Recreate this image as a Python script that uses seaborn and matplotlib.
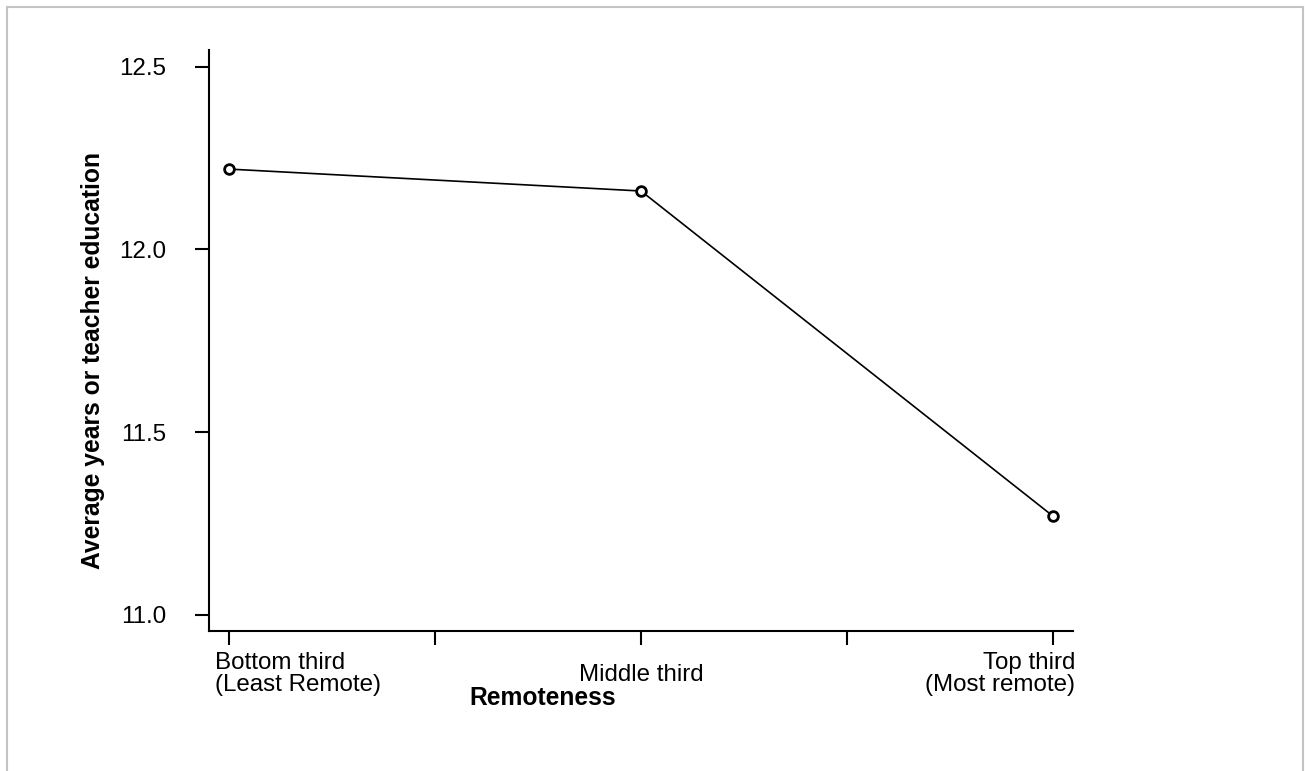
import matplotlib
matplotlib.use('Agg')
import matplotlib.pyplot as plt
import matplotlib.transforms as mtransforms
from matplotlib.patches import Rectangle
import seaborn as sns
import pandas as pd

# data
categories = ['Bottom third\n(Least Remote)', 'Middle third', 'Top third\n(Most remote)']
avg_education = [12.22, 12.16, 11.27]
y_ticks = [11.0, 11.5, 12.0, 12.5]

sns.set_theme(style='white')
plt.rcParams['font.family'] = ['Liberation Sans', 'DejaVu Sans']

df = pd.DataFrame({'pos': range(len(categories)), 'edu': avg_education})

fig = plt.figure(figsize=(13.05, 7.71), dpi=100)
ax = fig.add_axes([0.1602, 0.1816, 0.6621, 0.7536])

# grey frame around the whole picture
fig.patches.append(Rectangle((7 / 1305, -0.05), 1296 / 1305, 1.05 - 7 / 771,
                             transform=fig.transFigure, fill=False,
                             edgecolor='#c4c4c4', linewidth=1.5))

sns.lineplot(data=df, x='pos', y='edu', ax=ax, color='black', linewidth=1.2,
             marker='o', markersize=7, markerfacecolor='white',
             markeredgecolor='black', markeredgewidth=2.0)

ax.set_xlim(-0.0485, 2.0485)
ax.set_ylim(10.956, 12.546)

# ticks: categories plus unlabeled ones between them
xt = []
xl = []
for i, c in enumerate(categories):
    xt.append(i)
    xl.append(c)
    if i < len(categories) - 1:
        xt.append(i + 0.5)
        xl.append('')
ax.set_xticks(xt)
ax.set_xticklabels(xl, fontsize=17.4, linespacing=1.0)
ax.set_yticks(y_ticks)
ax.set_yticklabels(['%.1f' % v for v in y_ticks], fontsize=17.4)

ax.tick_params(axis='x', direction='out', length=10, width=1.5, pad=5, color='black')
ax.tick_params(axis='y', direction='out', length=10, width=1.5, pad=21, color='black')
ax.tick_params(bottom=True, left=True)

labs = ax.get_xticklabels()
labs[0].set_ha('left')
labs[-1].set_ha('right')
labs[2].set_transform(labs[2].get_transform() +
                      mtransforms.ScaledTranslation(0, -12 / 100, fig.dpi_scale_trans))
for lab in labs:
    lab.set_color('black')
for lab in ax.get_yticklabels():
    lab.set_color('black')
labs[0].set_transform(labs[0].get_transform() +
                      mtransforms.ScaledTranslation(-14 / 100, 0, fig.dpi_scale_trans))
labs[-1].set_transform(labs[-1].get_transform() +
                       mtransforms.ScaledTranslation(22 / 100, 0, fig.dpi_scale_trans))

ax.set_xlabel('Remoteness', fontsize=17.7, fontweight='bold', color='black')
ax.xaxis.set_label_coords(0.3866, -0.0947)
ax.set_ylabel('Average years or teacher education', fontsize=17.7, fontweight='bold', color='black')
ax.yaxis.set_label_coords(-0.120, 0.466)

sns.despine(ax=ax)
for s in ['left', 'bottom']:
    ax.spines[s].set_linewidth(1.5)
    ax.spines[s].set_color('black')

fig.savefig('out.png', dpi=100)
